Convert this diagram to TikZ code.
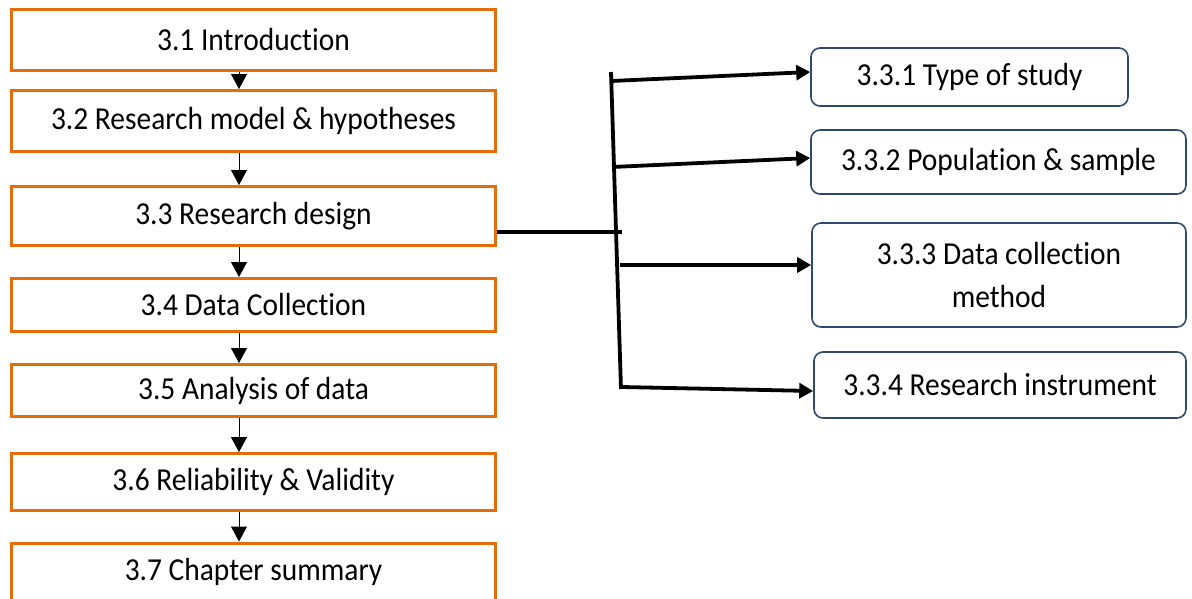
\documentclass[tikz,border=0pt]{standalone}
\usepackage{fontspec}
\setmainfont{Carlito}[Ligatures=NoCommon, FakeStretch=0.92]
\usetikzlibrary{arrows.meta, positioning}
\definecolor{secorange}{RGB}{228,108,10}
\definecolor{subblue}{RGB}{47,72,110}
\tikzset{
  secbox/.style={rectangle, draw=secorange, line width=3pt, minimum width=484pt, align=center, inner sep=0pt},
  subbox/.style={rectangle, rounded corners=9pt, draw=subblue, line width=1.6pt, align=center, inner sep=0pt},
  downarrow/.style={-{Triangle[width=16pt 0 0,length=15pt 0 0]}, line width=1pt},
  branch/.style={line width=3.8pt},
  brancharrow/.style={-{Triangle[width=15pt 0 0,length=14pt 0 0]}, line width=3.8pt}
}

\begin{document}
\begin{tikzpicture}[x=1pt, y=-1pt, font=\fontsize{32}{43}\selectfont]
\useasboundingbox (0,0) rectangle (1192,598);
\clip (0,0) rectangle (1192,598);

% chapter sections
\node[secbox, minimum height=61pt] (sec1) at (253.5,40) {3.1 Introduction};
\node[secbox, minimum height=61pt] (sec2) at (253.5,121) {3.2 Research model \& hypotheses};
\node[secbox, minimum height=59pt] (sec3) at (253.5,216) {3.3 Research design};
\node[secbox, minimum height=53pt] (sec4) at (253.5,305) {3.4 Data Collection};
\node[secbox, minimum height=52pt] (sec5) at (253.5,390.5) {3.5 Analysis of data};
\node[secbox, minimum height=57pt] (sec6) at (253.5,482) {3.6 Reliability \& Validity};
\node[secbox, minimum height=58pt] (sec7) at (253.5,572) {3.7 Chapter summary};

% flow between sections
\foreach \a/\b in {sec1/sec2, sec2/sec3, sec3/sec4, sec4/sec5, sec5/sec6, sec6/sec7} {
  \draw[downarrow] ([xshift=-14.5pt]\a.south) -- ([xshift=-14.5pt]\b.north);
}

% research design parts
\node[subbox, minimum width=317pt, minimum height=58pt] (sub1) at (969.5,77) {3.3.1 Type of study};
\node[subbox, minimum width=375pt, minimum height=64pt] (sub2) at (998.5,162) {3.3.2 Population \& sample};
\node[subbox, minimum width=374pt, minimum height=104pt] (sub3) at (999,275) {3.3.3 Data collection\\method};
\node[subbox, minimum width=372pt, minimum height=66pt] (sub4) at (1000,385) {3.3.4 Research instrument};

% branch
\coordinate (btop) at (611,72);
\coordinate (bbot) at (621,389);
\coordinate (bjoin) at (622,232);
\coordinate (bout1) at (611,81);
\coordinate (bout2) at (612,167);
\coordinate (bout3) at (620,265);
\coordinate (bout4) at (622,387);

\draw[branch] (btop) -- (bbot);
\draw[branch] (sec3.east |- bjoin) -- (bjoin);

\draw[brancharrow] (bout1) -- ([yshift=5pt]sub1.west);
\draw[brancharrow] (bout2) -- ([yshift=4pt]sub2.west);
\draw[brancharrow] (bout3) -- ([yshift=10pt]sub3.west);
\draw[brancharrow] (bout4) -- ([yshift=-6pt]sub4.west);

\end{tikzpicture}
\end{document}
